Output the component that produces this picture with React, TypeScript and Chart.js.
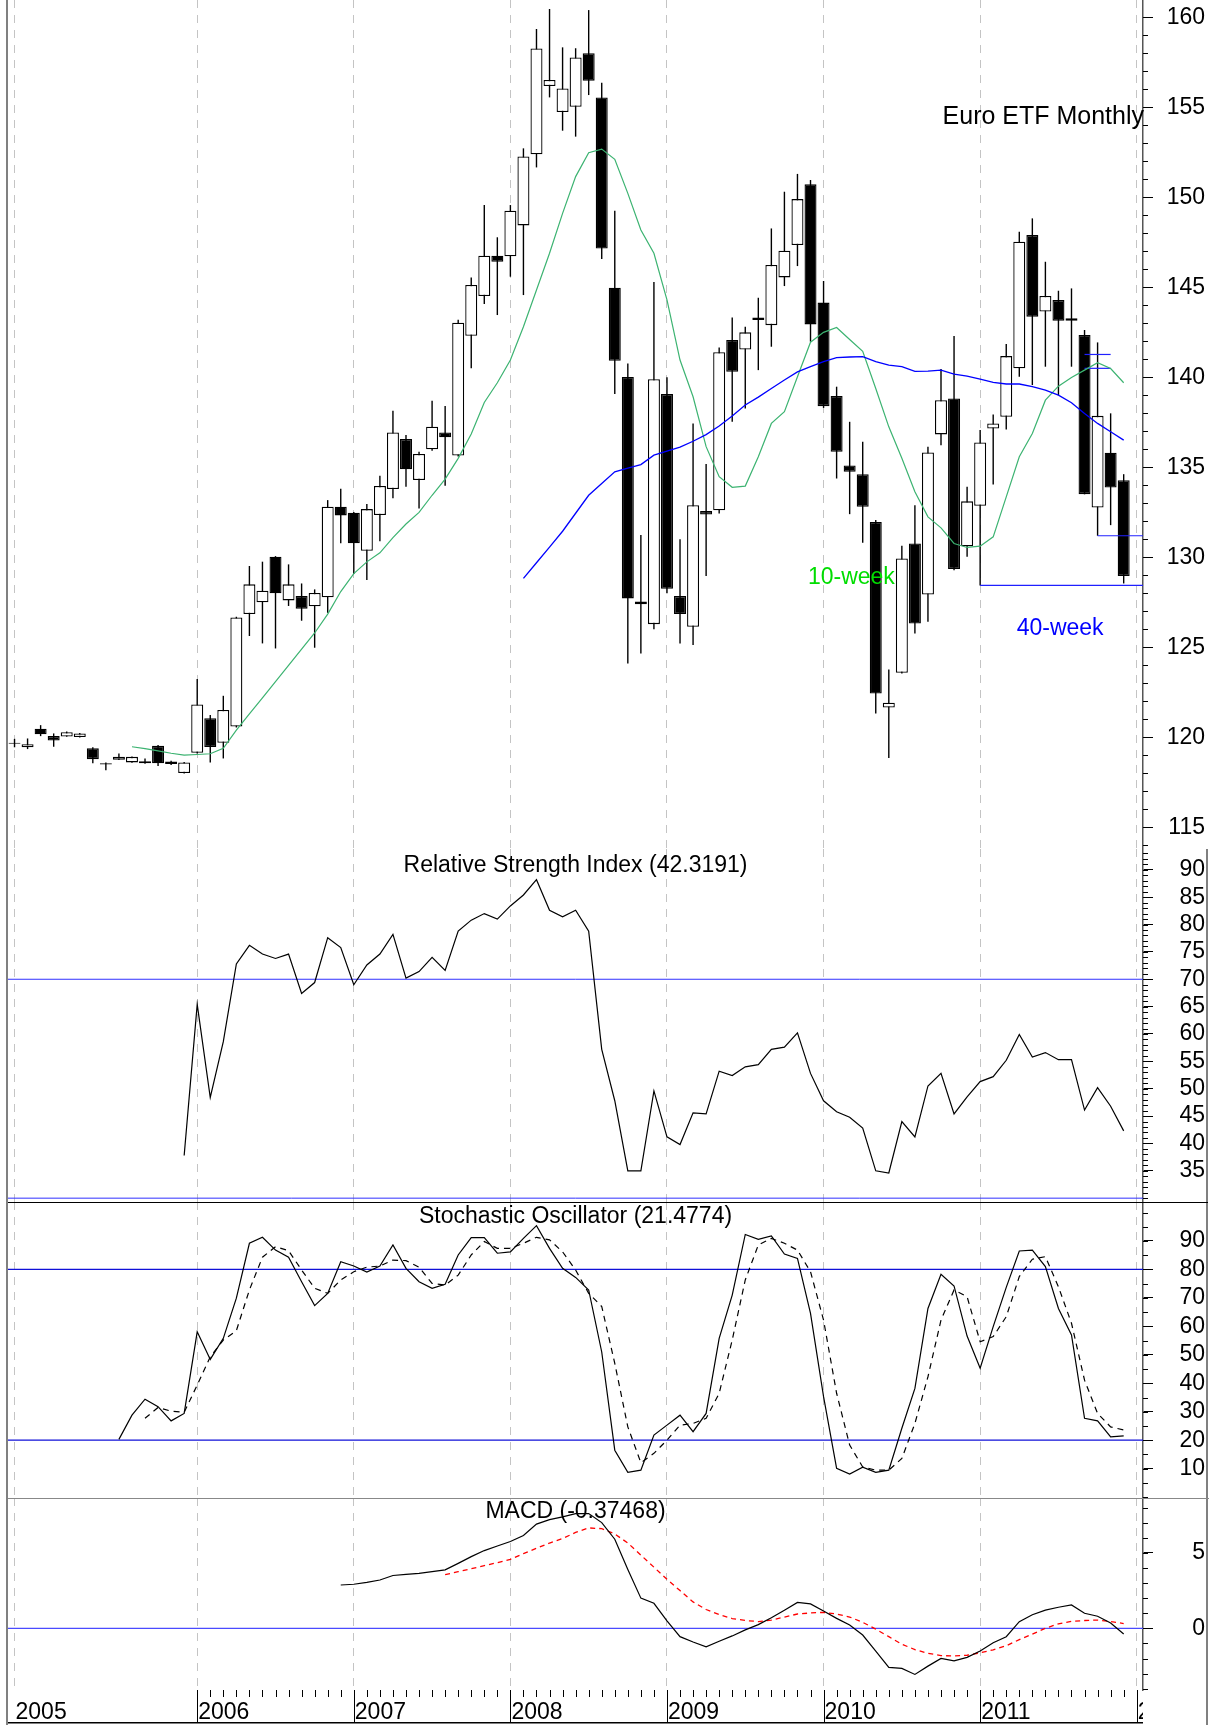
import React, { useEffect, useRef } from 'react';
import { Chart, registerables } from 'chart.js';

Chart.register(...registerables);

const FONT = '"Liberation Sans", Arial, Helvetica, sans-serif';
const W = 1209;

// ---------- x axis (monthly candles, index 0 = first month shown) ----------
const X_MIN = -0.5;
const X_MAX = 86.48;
const YEAR_POS = [0, 14, 26, 38, 50, 62, 74, 86];
const YEAR_LABELS = ['2005', '2006', '2007', '2008', '2009', '2010', '2011', '2012'];
const MONTH_TICK_FROM = 14;
const MONTH_TICK_TO = 85;

// ---------- price candles ----------
const OPEN = [
  119.70, 119.45, 120.48, 120.07, 120.05, 120.02, 119.39, 118.56, 118.76, 118.61,
  118.68, 119.53, 118.52, 118.02, 119.14, 121.06, 119.70, 120.60, 126.85, 127.50,
  130.04, 127.61, 127.85, 127.28, 127.78, 132.81, 132.48, 130.37, 132.35, 133.80,
  136.57, 134.30, 136.00, 136.94, 135.66, 142.31, 144.52, 146.76, 146.72, 148.44,
  152.39, 156.18, 154.74, 155.03, 158.00, 155.55, 144.98, 140.02, 127.55, 126.29,
  139.07, 127.85, 126.14, 132.57, 132.62, 142.07, 141.55, 143.33, 142.90, 145.55,
  147.35, 150.72, 144.15, 138.96, 135.10, 134.62, 131.97, 121.66, 123.59, 130.77,
  127.94, 136.83, 138.83, 130.62, 132.86, 137.16, 137.81, 140.50, 147.90, 143.65,
  144.29, 143.28, 142.35, 132.77, 135.81, 134.29,
];
const HIGH = [
  119.92, 119.94, 120.68, 120.22, 120.32, 120.24, 119.45, 118.61, 119.11, 118.94,
  118.83, 119.58, 118.70, 118.63, 123.24, 121.24, 122.31, 126.70, 129.52, 129.76,
  130.07, 129.61, 128.55, 128.22, 133.18, 133.81, 132.52, 132.96, 134.54, 138.15,
  136.80, 135.87, 138.70, 138.41, 143.20, 145.55, 149.57, 147.78, 149.57, 152.72,
  159.35, 160.46, 158.33, 158.28, 160.40, 156.37, 149.26, 140.77, 131.24, 145.30,
  140.00, 131.00, 137.44, 135.18, 141.66, 143.33, 142.81, 144.42, 148.27, 150.31,
  151.30, 150.96, 145.35, 139.48, 137.53, 136.42, 132.07, 123.77, 130.64, 132.90,
  136.14, 140.46, 142.29, 133.92, 137.07, 137.94, 141.85, 148.09, 148.83, 146.42,
  144.81, 144.94, 142.63, 141.94, 138.00, 134.62,
];
const LOW = [
  119.45, 119.35, 120.07, 119.48, 120.03, 120.00, 118.56, 118.18, 118.74, 118.59,
  118.54, 118.41, 118.46, 118.00, 119.10, 118.61, 118.83, 120.55, 125.63, 125.22,
  124.94, 127.30, 126.48, 124.98, 126.92, 130.78, 129.07, 128.74, 130.90, 133.28,
  133.92, 132.72, 135.92, 133.98, 135.60, 140.50, 144.07, 143.46, 145.59, 144.57,
  151.66, 155.55, 153.70, 153.37, 155.68, 146.57, 139.07, 124.11, 124.66, 126.00,
  128.00, 125.22, 125.13, 128.96, 132.44, 137.53, 138.27, 140.40, 141.70, 145.07,
  146.18, 141.98, 138.30, 134.38, 132.40, 130.81, 121.33, 118.86, 123.55, 125.77,
  126.42, 136.23, 129.29, 130.03, 128.44, 134.05, 137.10, 140.03, 139.57, 140.59,
  139.00, 140.59, 133.50, 131.20, 131.79, 128.55,
];
const CLOSE = [
  119.65, 119.62, 120.17, 119.83, 120.29, 120.22, 118.79, 118.50, 118.92, 118.92,
  118.56, 118.56, 118.66, 118.61, 121.83, 119.46, 121.52, 126.66, 128.50, 128.15,
  128.00, 128.50, 127.15, 128.02, 132.81, 132.33, 130.78, 132.68, 133.96, 136.94,
  134.89, 135.74, 137.26, 136.67, 143.03, 145.13, 146.76, 146.42, 149.26, 152.27,
  158.27, 156.52, 156.05, 157.77, 156.48, 147.16, 140.92, 127.72, 127.40, 139.90,
  128.26, 126.85, 132.90, 132.38, 141.40, 140.31, 142.50, 143.18, 146.24, 147.03,
  149.90, 142.94, 138.40, 135.86, 134.75, 132.81, 122.44, 121.92, 129.94, 126.33,
  135.83, 138.73, 129.35, 133.11, 136.38, 137.44, 141.18, 147.53, 143.37, 144.52,
  143.15, 143.15, 133.51, 137.86, 133.88, 128.96,
];

// ---------- moving averages ----------
const MA10_FROM = 9;
const MA10 = [
  119.48, 119.38, 119.25, 119.12, 119.02, 119.05, 119.09, 119.39, 120.40, 121.30,
  122.20, 123.10, 124.00, 124.90, 125.80, 126.85, 128.10, 129.10, 129.75, 130.25,
  131.10, 131.85, 132.50, 133.45, 134.35, 135.50, 136.85, 138.60, 139.70, 140.96,
  142.81, 144.85, 146.89, 149.11, 151.15, 152.48, 152.68, 152.11, 150.22, 148.18,
  146.89, 144.30, 140.96, 138.92, 136.15, 134.48, 133.89, 133.96, 135.59, 137.44,
  138.09, 140.03, 141.95, 142.50, 142.77, 142.10, 141.45, 139.38, 137.25, 135.50,
  133.64, 132.25, 131.64, 130.77, 130.55, 130.62, 131.14, 133.36, 135.59, 136.88,
  138.73, 139.51, 139.99, 140.40, 140.81, 140.49, 139.70,
];
const MA40_FROM = 39;
const MA40 = [
  128.83, 129.70, 130.57, 131.45, 132.45, 133.45, 134.10, 134.75, 134.95, 135.15,
  135.68, 135.90, 136.12, 136.45, 136.82, 137.30, 137.85, 138.46, 138.90, 139.38,
  139.85, 140.30, 140.59, 140.87, 141.09, 141.13, 141.15, 140.87, 140.68, 140.59,
  140.33, 140.35, 140.40, 140.18, 140.07, 139.90, 139.72, 139.63, 139.63, 139.48,
  139.29, 139.01, 138.59, 137.99, 137.44, 136.98, 136.51,
];

// horizontal support / marker levels
const SUPPORT_LEVELS = [128.44, 131.2];
const SUPPORT_FROM = [74, 83];
const MARK_LEVELS = [141.27, 140.5];
const MARK_FROM = 82;
const MARK_TO = 84;

// ---------- RSI ----------
const RSI_FROM = 13;
const RSI = [
  37.8, 65.4, 48.4, 58.6, 72.8, 76.2, 74.6, 73.8, 74.6, 67.4,
  69.4, 77.6, 75.8, 69.0, 72.6, 74.6, 78.2, 70.2, 71.4, 74.0,
  71.6, 78.8, 80.8, 82.0, 81.0, 83.4, 85.4, 88.2, 82.6, 81.4,
  82.6, 78.8, 57.2, 47.8, 35.0, 35.0, 49.6, 41.2, 39.8, 45.6,
  45.4, 53.2, 52.4, 54.0, 54.4, 57.2, 57.6, 60.2, 52.8, 47.8,
  45.8, 44.8, 42.8, 35.0, 34.6, 44.0, 41.2, 50.5, 52.8, 45.4,
  48.5, 51.3, 52.2, 55.2, 59.9, 55.8, 56.6, 55.3, 55.3, 46.1,
  50.2, 46.8, 42.3,
];
const RSI_LEVELS = [70, 30];

// ---------- Stochastic ----------
const STOCH_K_FROM = 8;
const STOCH_K = [
  20.3, 28.8, 34.4, 31.8, 26.8, 29.4, 58.1, 48.4, 55.8, 69.9,
  89.2, 91.3, 86.8, 84.3, 75.7, 67.3, 71.6, 82.7, 81.2, 79.1,
  81.2, 88.6, 80.4, 75.7, 73.4, 74.8, 85.1, 91.2, 91.2, 85.7,
  86.2, 90.9, 95.4, 87.4, 80.4, 77.2, 72.8, 51.0, 16.5, 8.7,
  9.5, 21.8, 25.3, 28.8, 23.0, 29.4, 55.8, 71.0, 92.3, 90.6,
  91.8, 85.4, 83.9, 64.6, 35.3, 10.1, 8.1, 10.5, 8.7, 9.5,
  24.2, 38.2, 66.3, 78.3, 74.2, 56.6, 45.3, 59.9, 73.7, 86.5,
  86.8, 81.0, 66.3, 57.0, 27.7, 26.8, 21.2, 21.5,
];
const STOCH_D_FROM = 10;
const STOCH_D = [
  27.7, 31.5, 30.2, 29.8, 39.4, 49.3, 55.2, 58.5, 72.8, 84.3,
  88.0, 86.6, 79.8, 73.4, 71.6, 76.3, 79.2, 80.8, 81.2, 83.3,
  83.1, 80.8, 75.1, 74.5, 78.0, 85.1, 89.8, 87.4, 87.4, 89.2,
  91.3, 90.4, 86.2, 79.8, 71.6, 67.0, 47.0, 24.7, 12.1, 15.4,
  20.0, 25.3, 25.9, 27.7, 36.5, 55.2, 76.3, 88.6, 90.9, 89.2,
  86.8, 79.2, 62.2, 36.5, 18.3, 10.6, 9.5, 9.5, 13.6, 25.9,
  42.3, 62.2, 72.8, 70.4, 54.6, 56.4, 63.4, 77.5, 83.6, 84.5,
  73.9, 61.1, 41.1, 29.4, 24.7, 23.6,
];
const STOCH_LEVELS = [80, 20];

// ---------- MACD ----------
const MACD_FROM = 25;
const MACD = [
  2.87, 2.92, 3.05, 3.20, 3.50, 3.58, 3.64, 3.75, 3.87, 4.30,
  4.75, 5.15, 5.45, 5.75, 6.15, 6.90, 7.20, 7.38, 7.60, 7.60,
  7.00, 5.90, 3.90, 2.00, 1.66, 0.50, -0.55, -0.90, -1.22, -0.85,
  -0.50, -0.10, 0.25, 0.70, 1.20, 1.72, 1.62, 1.15, 0.66, 0.22,
  -0.44, -1.50, -2.58, -2.65, -3.05, -2.50, -1.99, -2.15, -1.92, -1.50,
  -0.95, -0.55, 0.44, 0.90, 1.21, 1.40, 1.55, 1.00, 0.80, 0.35,
  -0.37,
];
const SIGNAL_FROM = 33;
const SIGNAL = [
  3.55, 3.75, 3.95, 4.15, 4.35, 4.57, 4.95, 5.30, 5.65, 5.95,
  6.35, 6.65, 6.60, 6.25, 5.65, 4.85, 4.05, 3.25, 2.50, 1.75,
  1.25, 0.92, 0.65, 0.52, 0.45, 0.55, 0.75, 0.95, 1.02, 1.06,
  0.95, 0.75, 0.40, -0.05, -0.55, -1.05, -1.40, -1.65, -1.80, -1.83,
  -1.78, -1.62, -1.42, -1.15, -0.75, -0.38, 0.00, 0.30, 0.46, 0.52,
  0.55, 0.45, 0.32,
];
const MACD_LEVELS = [0];

// ---------- axis ticks ----------
const PRICE_TICKS = [115, 120, 125, 130, 135, 140, 145, 150, 155, 160];
const RSI_TICKS = [35, 40, 45, 50, 55, 60, 65, 70, 75, 80, 85, 90];
const STOCH_TICKS = [10, 20, 30, 40, 50, 60, 70, 80, 90];
const MACD_TICKS = [0, 5];

// ---------- helpers ----------
const seriesPoints = (arr: number[], from: number) => arr.map((y, k) => ({ x: from + k, y }));
const levelLine = (y: number, from = X_MIN, to = X_MAX) => [
  { x: from, y },
  { x: to, y },
];

const lineDs = (data: any[], color: string, width: number, extra: any = {}) => ({
  type: 'line',
  data,
  borderColor: color,
  borderWidth: width,
  pointRadius: 0,
  tension: 0,
  fill: false,
  ...extra,
});

const xScale = () => ({
  type: 'linear',
  min: X_MIN,
  max: X_MAX,
  bounds: 'data',
  offset: false,
  afterBuildTicks: (s: any) => {
    s.ticks = YEAR_POS.map((v) => ({ value: v }));
  },
  afterFit: (s: any) => {
    s.height = 0;
    s.paddingLeft = 0;
    s.paddingRight = 0;
  },
  ticks: { display: false },
  grid: {
    display: true,
    offset: false,
    drawOnChartArea: true,
    drawTicks: false,
    color: '#c4c4c4',
    lineWidth: 1,
  },
  border: { display: false, dash: [8, 7] },
});

const yScale = (min: number, max: number, ticks: number[]) => ({
  type: 'linear',
  position: 'right',
  min,
  max,
  bounds: 'data',
  beginAtZero: false,
  afterBuildTicks: (s: any) => {
    s.ticks = ticks.map((v) => ({ value: v }));
  },
  afterFit: (s: any) => {
    s.width = 62;
    s.paddingTop = 0;
    s.paddingBottom = 0;
  },
  ticks: {
    autoSkip: false,
    padding: 12,
    crossAlign: 'far',
    color: '#000',
    font: { family: FONT, size: 23 },
    callback: (v: any) => String(v),
  },
  grid: {
    display: true,
    drawOnChartArea: false,
    drawTicks: true,
    tickLength: 10,
    tickColor: '#000',
    tickWidth: 1,
  },
  border: { display: true, color: '#555', width: 1.5 },
});

type TextSpec = {
  text: string;
  size: number;
  color: string;
  align: CanvasTextAlign;
  mode: 'data' | 'title' | 'right';
  x?: number;
  y: number;
};

type DecorCfg = {
  minor: { from: number; to: number; step: number };
  texts: TextSpec[];
  bottomAxis?: boolean;
};

const makeDecor = (cfg: DecorCfg) => ({
  id: 'decor',
  afterDraw(chart: any) {
    const { ctx, chartArea: ca, scales } = chart;
    const xs = scales.x;
    const ys = scales.y;
    ctx.save();
    // minor ticks on the right axis
    ctx.strokeStyle = '#000';
    ctx.lineWidth = 1;
    for (let v = cfg.minor.from; v <= cfg.minor.to + 1e-9; v += cfg.minor.step) {
      const py = Math.round(ys.getPixelForValue(v)) + 0.5;
      if (py < ca.top - 0.5 || py > ca.bottom + 0.5) continue;
      ctx.beginPath();
      ctx.moveTo(ca.right, py);
      ctx.lineTo(ca.right + 5, py);
      ctx.stroke();
    }
    // texts
    cfg.texts.forEach((t) => {
      ctx.font = `${t.size}px ${FONT}`;
      ctx.fillStyle = t.color;
      ctx.textAlign = t.align;
      ctx.textBaseline = 'alphabetic';
      let px = 0;
      let py = 0;
      if (t.mode === 'data') {
        px = xs.getPixelForValue(t.x as number);
        py = ys.getPixelForValue(t.y);
      } else if (t.mode === 'title') {
        px = (ca.left + ca.right) / 2;
        py = ca.top + t.y;
      } else {
        px = ca.right + 1;
        py = ca.top + t.y;
      }
      ctx.fillText(t.text, px, py);
    });
    // bottom date axis
    if (cfg.bottomAxis) {
      const top = ca.bottom;
      ctx.strokeStyle = '#000';
      ctx.lineWidth = 1;
      for (let i = MONTH_TICK_FROM; i <= MONTH_TICK_TO; i++) {
        const px = Math.round(xs.getPixelForValue(i)) + 0.5;
        ctx.beginPath();
        ctx.moveTo(px, top);
        ctx.lineTo(px, top + 7);
        ctx.stroke();
      }
      YEAR_POS.forEach((p, k) => {
        if (k === 0) return;
        const px = Math.round(xs.getPixelForValue(p)) + 0.5;
        ctx.beginPath();
        ctx.moveTo(px, top);
        ctx.lineTo(px, top + 32);
        ctx.stroke();
      });
      ctx.save();
      ctx.beginPath();
      ctx.rect(0, top, ca.right, 40);
      ctx.clip();
      ctx.font = `23px ${FONT}`;
      ctx.fillStyle = '#000';
      ctx.textAlign = 'left';
      ctx.textBaseline = 'alphabetic';
      YEAR_POS.forEach((p, k) => {
        const px = xs.getPixelForValue(p) + 1;
        ctx.fillText(YEAR_LABELS[k], px, top + 29);
      });
      ctx.restore();
      ctx.fillStyle = '#000';
      ctx.fillRect(ca.left, top + 32, ca.right - ca.left, 1.5);
    }
    ctx.restore();
  },
});

const baseOptions = (yMin: number, yMax: number, yTicks: number[], padBottom = 0) => ({
  responsive: false,
  maintainAspectRatio: false,
  animation: false,
  devicePixelRatio: 1,
  events: [],
  layout: { autoPadding: false, padding: { left: 8, right: 4, top: 0, bottom: padBottom } },
  plugins: { legend: { display: false }, tooltip: { enabled: false }, title: { display: false } },
  scales: { x: xScale(), y: yScale(yMin, yMax, yTicks) },
});

// ---------- chart configs ----------
const priceConfig = () => {
  const idx = OPEN.map((_, i) => i);
  const datasets: any[] = [
    {
      type: 'bar',
      data: idx.map((i) => ({ x: i, y: [LOW[i], HIGH[i]] })),
      backgroundColor: '#000',
      borderWidth: 0,
      grouped: false,
      categoryPercentage: 1,
      barPercentage: 1,
      maxBarThickness: 1.4,
      inflateAmount: 0,
      order: 10,
    },
    {
      type: 'bar',
      data: idx.map((i) => ({ x: i, y: [OPEN[i], CLOSE[i]] })),
      backgroundColor: (c: any) => (CLOSE[c.dataIndex] >= OPEN[c.dataIndex] ? '#ffffff' : '#000000'),
      borderColor: '#000',
      borderWidth: 1.3,
      borderSkipped: false,
      grouped: false,
      categoryPercentage: 1,
      barPercentage: 1,
      maxBarThickness: 12,
      inflateAmount: 0,
      order: 9,
    },
  ];
  SUPPORT_LEVELS.forEach((lv, k) => {
    datasets.push(lineDs(levelLine(lv, SUPPORT_FROM[k], X_MAX), '#2020ff', 1.2, { order: 3 }));
  });
  MARK_LEVELS.forEach((lv) => {
    datasets.push(lineDs(levelLine(lv, MARK_FROM, MARK_TO), '#2020ff', 1.2, { order: 3 }));
  });
  datasets.push(lineDs(seriesPoints(MA10, MA10_FROM), '#3cb371', 1.2, { order: 2 }));
  datasets.push(lineDs(seriesPoints(MA40, MA40_FROM), '#0000ff', 1.3, { order: 1 }));
  return {
    type: 'bar',
    data: { datasets },
    options: baseOptions(113.8, 160.96, PRICE_TICKS),
    plugins: [
      makeDecor({
        minor: { from: 114, to: 160, step: 1 },
        texts: [
          { text: 'Euro ETF Monthly', size: 25, color: '#000', align: 'right', mode: 'right', y: 124 },
          { text: '10-week', size: 23, color: '#00dd00', align: 'left', mode: 'data', x: 60.8, y: 128.5 },
          { text: '40-week', size: 23, color: '#0000ff', align: 'left', mode: 'data', x: 76.8, y: 125.7 },
        ],
      }),
    ],
  };
};

const rsiConfig = () => ({
  type: 'line',
  data: {
    datasets: [
      ...RSI_LEVELS.map((lv) => lineDs(levelLine(lv), '#3030ff', 1, { order: 3 })),
      lineDs(seriesPoints(RSI, RSI_FROM), '#000', 1.2, { order: 1 }),
    ],
  },
  options: baseOptions(29.3, 93.8, RSI_TICKS),
  plugins: [
    makeDecor({
      minor: { from: 30, to: 93, step: 1 },
      texts: [{ text: 'Relative Strength Index (42.3191)', size: 23, color: '#000', align: 'center', mode: 'title', y: 22.5 }],
    }),
  ],
});

const stochConfig = () => ({
  type: 'line',
  data: {
    datasets: [
      ...STOCH_LEVELS.map((lv) => lineDs(levelLine(lv), '#1010d8', 1.3, { order: 3 })),
      lineDs(seriesPoints(STOCH_D, STOCH_D_FROM), '#000', 1.2, { order: 2, borderDash: [6, 5] }),
      lineDs(seriesPoints(STOCH_K, STOCH_K_FROM), '#000', 1.2, { order: 1 }),
    ],
  },
  options: baseOptions(-0.3, 103.7, STOCH_TICKS),
  plugins: [
    makeDecor({
      minor: { from: 0, to: 100, step: 5 },
      texts: [{ text: 'Stochastic Oscillator (21.4774)', size: 23, color: '#000', align: 'center', mode: 'title', y: 21 }],
    }),
  ],
});

const macdConfig = () => ({
  type: 'line',
  data: {
    datasets: [
      ...MACD_LEVELS.map((lv) => lineDs(levelLine(lv), '#4a4aff', 1.3, { order: 3 })),
      lineDs(seriesPoints(SIGNAL, SIGNAL_FROM), '#ff0000', 1.3, { order: 2, borderDash: [5, 4] }),
      lineDs(seriesPoints(MACD, MACD_FROM), '#000', 1.2, { order: 1 }),
    ],
  },
  options: baseOptions(-4.08, 8.63, MACD_TICKS, 35),
  plugins: [
    makeDecor({
      minor: { from: -4, to: 8, step: 1 },
      texts: [{ text: 'MACD (-0.37468)', size: 23, color: '#000', align: 'center', mode: 'title', y: 19.5 }],
      bottomAxis: true,
    }),
  ],
});

function ChartCanvas({ top, height, build }: { top: number; height: number; build: () => any }) {
  const ref = useRef<HTMLCanvasElement | null>(null);
  useEffect(() => {
    if (!ref.current) return;
    const chart = new Chart(ref.current, build() as any);
    return () => chart.destroy();
  }, [build]);
  return (
    <canvas
      ref={ref}
      width={W}
      height={height}
      style={{ position: 'absolute', left: 0, top, width: W, height, display: 'block' }}
    />
  );
}

const line = (left: number, top: number, width: number, height: number, color: string) => (
  <div style={{ position: 'absolute', left, top, width, height, background: color }} />
);

export default function App() {
  return (
    <div
      style={{
        position: 'absolute',
        left: 0,
        top: 0,
        width: W,
        height: 1725,
        background: '#fff',
        overflow: 'hidden',
      }}
    >
      <ChartCanvas top={0} height={849} build={priceConfig} />
      <ChartCanvas top={849} height={353} build={rsiConfig} />
      <ChartCanvas top={1202} height={296} build={stochConfig} />
      <ChartCanvas top={1498} height={227} build={macdConfig} />
      {line(6, 0, 2, 1725, '#808080')}
      {line(1206, 849, 2, 876, '#808080')}
      {line(8, 1202, 1200, 1, '#000')}
      {line(8, 1498, 1201, 1, '#888')}
    </div>
  );
}
